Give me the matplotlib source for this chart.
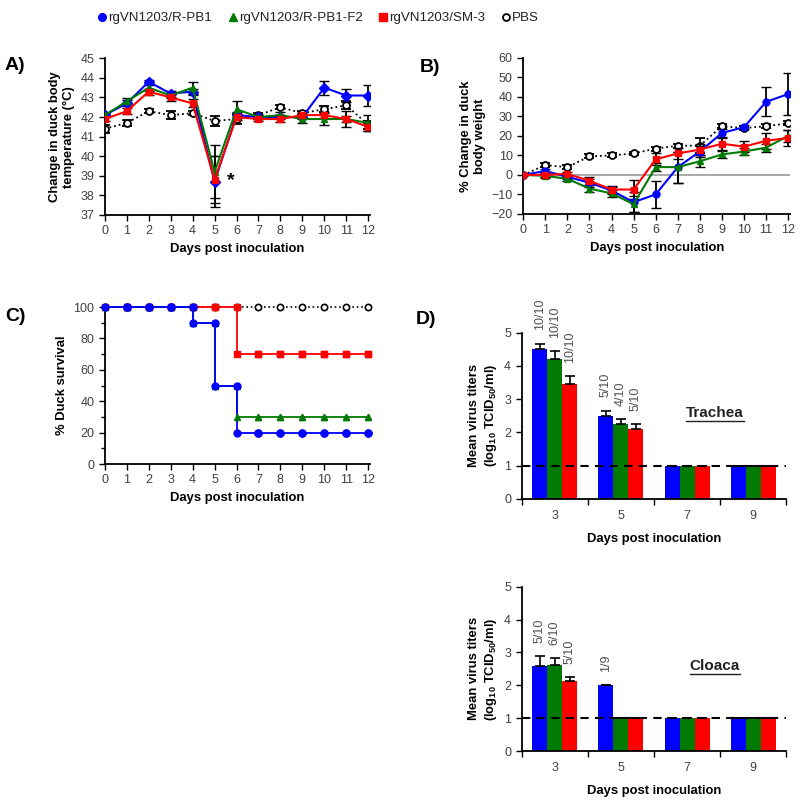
import matplotlib
matplotlib.use('Agg')
from matplotlib import pyplot as plt
from matplotlib.lines import Line2D
import numpy as np

plt.rcParams['font.family'] = ['Liberation Sans', 'DejaVu Sans']
plt.rcParams['mathtext.fontset'] = 'custom'
plt.rcParams['mathtext.rm'] = 'Liberation Sans'
plt.rcParams['mathtext.bf'] = 'Liberation Sans:bold'

# ---- data ----
days = list(range(13))
series_names = ['rgVN1203/R-PB1', 'rgVN1203/R-PB1-F2', 'rgVN1203/SM-3', 'PBS']

temp_pb1 = [42.1, 42.7, 43.8, 43.2, 43.3, 38.7, 42.1, 42.0, 42.0, 42.0, 43.5, 43.1, 43.1]
temp_f2 = [42.1, 42.8, 43.5, 43.1, 43.5, 39.2, 42.4, 42.0, 42.1, 41.9, 41.9, 41.9, 41.7]
temp_sm3 = [41.9, 42.3, 43.3, 43.0, 42.7, 38.8, 42.0, 41.9, 41.9, 42.1, 42.1, 41.9, 41.5]
temp_pbs = [41.4, 41.7, 42.3, 42.1, 42.2, 41.8, 41.9, 42.1, 42.5, 42.2, 42.4, 42.6, 41.6]
temp_err_pb1 = [0.1, 0.15, 0.1, 0.15, 0.15, 1.3, 0.15, 0.1, 0.1, 0.1, 0.35, 0.35, 0.55]
temp_err_f2 = [0.1, 0.15, 0.15, 0.15, 0.3, 1.35, 0.4, 0.1, 0.15, 0.2, 0.3, 0.4, 0.4]
temp_err_sm3 = [0.1, 0.15, 0.15, 0.2, 0.2, 1.2, 0.15, 0.1, 0.15, 0.1, 0.15, 0.15, 0.2]
temp_err_pbs = [0.2, 0.15, 0.1, 0.2, 0.1, 0.25, 0.25, 0.1, 0.1, 0.1, 0.15, 0.2, 0.2]

wt_pb1 = [0, 2, -1, -4, -8, -14, -10, 4, 12, 21.5, 24.5, 37.5, 41.5]
wt_f2 = [0, -0.5, -2, -7, -9.5, -15, 4, 4, 7, 10.5, 12, 14, 20]
wt_sm3 = [0, 0, 0.5, -3, -7.5, -7.5, 8, 11, 13, 16, 14.5, 17.5, 19]
wt_pbs = [0, 5, 4, 9.5, 10, 11, 13.5, 15, 15, 25, 24, 25, 26.5]
wt_err_pb1 = [0, 1, 1, 2, 2, 5, 7, 8, 3, 2, 1, 7.5, 11]
wt_err_f2 = [0, 1, 1, 2, 2, 4, 2, 8, 3, 2, 2, 2, 3]
wt_err_sm3 = [0, 1, 1, 2, 2, 5, 3, 3, 3, 3, 3, 4, 4]
wt_err_pbs = [0, 1, 1, 1, 1, 1, 1, 1, 4, 1, 1, 1, 1]

surv_pb1 = [100, 100, 100, 100, 90, 50, 20, 20, 20, 20, 20, 20, 20]
surv_f2 = [100, 100, 100, 100, 90, 50, 30, 30, 30, 30, 30, 30, 30]
surv_sm3 = [100, 100, 100, 100, 100, 100, 70, 70, 70, 70, 70, 70, 70]
surv_pbs = [100] * 13

titer_days = ['3', '5', '7', '9']
trachea_pb1 = [4.5, 2.5, 1, 1]
trachea_f2 = [4.2, 2.25, 1, 1]
trachea_sm3 = [3.45, 2.1, 1, 1]
trachea_err_pb1 = [0.17, 0.15, 0, 0]
trachea_err_f2 = [0.25, 0.15, 0, 0]
trachea_err_sm3 = [0.25, 0.15, 0, 0]
trachea_lbl_pb1 = ['10/10', '5/10', '', '']
trachea_lbl_f2 = ['10/10', '4/10', '', '']
trachea_lbl_sm3 = ['10/10', '5/10', '', '']

cloaca_pb1 = [2.6, 2.0, 1, 1]
cloaca_f2 = [2.62, 1, 1, 1]
cloaca_sm3 = [2.12, 1, 1, 1]
cloaca_err_pb1 = [0.28, 0, 0, 0]
cloaca_err_f2 = [0.22, 0, 0, 0]
cloaca_err_sm3 = [0.12, 0, 0, 0]
cloaca_lbl_pb1 = ['5/10', '1/9', '', '']
cloaca_lbl_f2 = ['6/10', '', '', '']
cloaca_lbl_sm3 = ['5/10', '', '', '']

BLUE = '#0000ff'
GREEN = '#007a00'
RED = '#ff0000'
TICKC = '#404040'
LABFS = 9.4

fig = plt.figure(figsize=(8, 8.01), dpi=100)


def style_axes(ax):
    for s in ['top', 'right']:
        ax.spines[s].set_visible(False)
    for s in ['left', 'bottom']:
        ax.spines[s].set_linewidth(1.3)
    ax.tick_params(labelsize=9, labelcolor=TICKC, width=1, length=4, direction='out')
    ax.tick_params(which='minor', width=1, length=3)


def xlab(ax, pad=4):
    ax.set_xlabel('Days post inoculation', fontsize=LABFS, fontweight='bold', labelpad=pad)


# ---- A ----
axA = fig.add_axes([0.131, 0.7316, 0.332, 0.1956])
line_specs = [
    (temp_pb1, temp_err_pb1, BLUE, 'D', '-'),
    (temp_f2, temp_err_f2, GREEN, '^', '-'),
    (temp_sm3, temp_err_sm3, RED, 's', '-'),
]
axA.errorbar(days, temp_pbs, yerr=temp_err_pbs, color='black', ecolor='black', ls=':',
             lw=1.3, marker='o', mfc='white', mec='black', ms=5, mew=1.3, capsize=3.5, elinewidth=1.3, zorder=2)
for vals, err, c, m, ls in line_specs:
    axA.errorbar(days, vals, yerr=err, color=c, ecolor='black', ls=ls, lw=1.5,
                 marker=m, ms=5, capsize=3.5, elinewidth=1.3, zorder=3)
axA.set_xlim(0, 12.1)
axA.set_ylim(37, 45)
axA.set_xticks(days)
axA.set_yticks(range(37, 46))
axA.text(5.55, 38.75, '*', fontsize=14, fontweight='bold', va='center', ha='left')
axA.set_ylabel('Change in duck body\ntemperature (\u00b0C)', fontsize=LABFS, fontweight='bold')
xlab(axA)
style_axes(axA)

# ---- B ----
axB = fig.add_axes([0.654, 0.733, 0.334, 0.1946])
axB.axhline(0, color='#999999', lw=1.2, zorder=1)
axB.errorbar(days, wt_pbs, yerr=wt_err_pbs, color='black', ecolor='black', ls=':',
             lw=1.3, marker='o', mfc='white', mec='black', ms=5, mew=1.3, capsize=3.5, elinewidth=1.3, zorder=2)
for vals, err, c, m in [(wt_pb1, wt_err_pb1, BLUE, 'o'), (wt_f2, wt_err_f2, GREEN, '^'),
                        (wt_sm3, wt_err_sm3, RED, 's')]:
    axB.errorbar(days, vals, yerr=err, color=c, ecolor='black', lw=1.5, marker=m, ms=5,
                 capsize=3.5, elinewidth=1.3, zorder=3)
axB.set_xlim(0, 12.1)
axB.set_ylim(-20, 60)
axB.set_xticks(days)
axB.set_yticks(range(-20, 61, 10))
axB.set_ylabel('% Change in duck\nbody weight', fontsize=LABFS, fontweight='bold')
xlab(axB)
style_axes(axB)

# ---- C ----
axC = fig.add_axes([0.131, 0.4207, 0.332, 0.196])
axC.plot(days, surv_pbs, color='black', ls=':', lw=1.2, marker='o', mfc='white', mec='black',
         ms=4.5, mew=1.2, drawstyle='steps-post', zorder=2, clip_on=False)
for vals, c, m in [(surv_sm3, RED, 's'), (surv_f2, GREEN, '^'), (surv_pb1, BLUE, 'o')]:
    axC.plot(days, vals, color=c, lw=1.3, drawstyle='steps-post', zorder=3, clip_on=False)
    axC.plot(days, vals, color=c, ls='none', marker=m, ms=5, zorder=4, clip_on=False)
    axC.plot(days[1:], vals[:-1], color=c, ls='none', marker=m, ms=5, zorder=4, clip_on=False)
axC.set_xlim(0, 12.1)
axC.set_ylim(0, 100)
axC.set_xticks(days)
axC.set_yticks(range(0, 101, 20))
axC.set_yticks(range(10, 100, 20), minor=True)
axC.set_ylabel('% Duck survival', fontsize=LABFS, fontweight='bold')
xlab(axC)
style_axes(axC)


# ---- D ----
def bar_panel(rect, groups, errs, labels, title):
    ax = fig.add_axes(rect)
    x = np.arange(len(titer_days))
    w = 0.226
    colors = [BLUE, GREEN, RED]
    for i, (vals, err, lbl, c) in enumerate(zip(groups, errs, labels, colors)):
        pos = x + (i - 1) * w
        ax.bar(pos, vals, width=w, color=c, zorder=2)
        ax.errorbar(pos, vals, yerr=[np.zeros(len(err)), err], fmt='none', ecolor='black',
                    capsize=3.5, elinewidth=1.2, capthick=1.2, zorder=3)
        for p, v, e, t in zip(pos, vals, err, lbl):
            if t:
                ax.text(p, v + e + 0.4, t, rotation=90, ha='center', va='bottom',
                        fontsize=9, color='#505050')
    ax.axhline(1, color='black', ls='--', lw=1.5, dashes=(4, 3), zorder=4)
    ax.set_xlim(-0.5, 3.5)
    ax.set_ylim(0, 5)
    ax.set_xticks(x)
    ax.set_xticklabels(titer_days)
    ax.set_xticks(np.arange(-0.5, 4, 1), minor=True)
    ax.set_yticks(range(0, 6))
    style_axes(ax)
    ax.tick_params(axis='x', which='major', length=0, pad=8)
    ax.tick_params(axis='x', which='minor', length=4)
    ax.set_ylabel('Mean virus titers\n(log$_{\\mathbf{10}}$ TCID$_{\\mathbf{50}}$/ml)',
                  fontsize=LABFS, fontweight='bold')
    xlab(ax, pad=8)
    t = ax.text(2.42, 2.58, title, fontsize=11, fontweight='bold', ha='center', va='center', color='#222222')
    return ax, t


axD1, tD1 = bar_panel([0.652, 0.3774, 0.331, 0.2072],
                      [trachea_pb1, trachea_f2, trachea_sm3],
                      [trachea_err_pb1, trachea_err_f2, trachea_err_sm3],
                      [trachea_lbl_pb1, trachea_lbl_f2, trachea_lbl_sm3], 'Trachea')
axD2, tD2 = bar_panel([0.652, 0.0624, 0.331, 0.2051],
                      [cloaca_pb1, cloaca_f2, cloaca_sm3],
                      [cloaca_err_pb1, cloaca_err_f2, cloaca_err_sm3],
                      [cloaca_lbl_pb1, cloaca_lbl_f2, cloaca_lbl_sm3], 'Cloaca')

# panel letters
for lbl, (px, py) in zip(['A)', 'B)', 'C)', 'D)'],
                         [(0.006, 0.918), (0.525, 0.916), (0.006, 0.605), (0.52, 0.601)]):
    fig.text(px, py, lbl, fontsize=14, fontweight='bold', ha='left', va='center')

# legend
handles = [
    Line2D([], [], ls='none', marker='o', color=BLUE, ms=5.5),
    Line2D([], [], ls='none', marker='^', color=GREEN, ms=6),
    Line2D([], [], ls='none', marker='s', color=RED, ms=6),
    Line2D([], [], ls='none', marker='o', mfc='white', mec='black', mew=1.3, ms=5),
]
fig.legend(handles, series_names, loc='upper center', bbox_to_anchor=(0.398, 1.0), ncol=4,
           frameon=False, fontsize=9.6, handletextpad=0.1, columnspacing=1.2, handlelength=0.7,
           labelcolor='#222222')

# underline titles
fig.canvas.draw()
rend = fig.canvas.get_renderer()
for t in [tD1, tD2]:
    bb = t.get_window_extent(rend)
    fw, fh = fig.bbox.width, fig.bbox.height
    fig.add_artist(Line2D([bb.x0 / fw, bb.x1 / fw], [(bb.y0 - 1) / fh] * 2, color='#222222', lw=1))

fig.savefig('out.png', dpi=100)
